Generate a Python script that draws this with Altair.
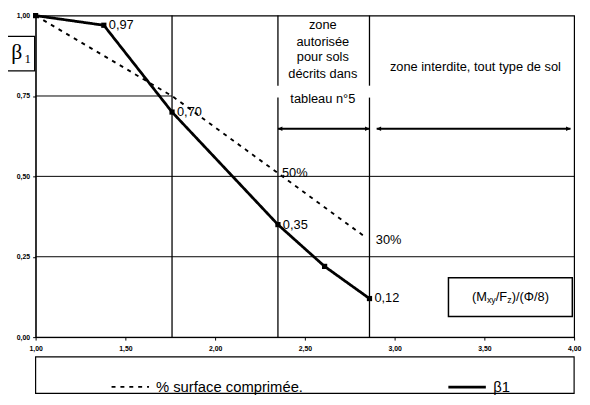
import altair as alt
import pandas as pd

# ---------------- data ----------------
beta_x = [1.00, 1.38, 1.76, 2.35, 2.61, 2.86]
beta_y = [1.00, 0.97, 0.70, 0.35, 0.22, 0.12]
beta_labels = ["", "0,97", "0,70", "0,35", "", "0,12"]

surf_x = [1.00, 1.76, 2.35, 2.84]
surf_y = [1.00, 0.75, 0.51, 0.31]
surf_labels = ["", "", "50%", "30%"]

series_names = ["% surface comprimée.", "β1"]

x_ticks = [1.0, 1.5, 2.0, 2.5, 3.0, 3.5, 4.0]
y_ticks = [0.0, 0.25, 0.5, 0.75, 1.0]

# horizontal grid lines (y, x-from, x-to)
grid_y = [0.25, 0.50, 0.75]
grid_x1 = [1.0, 1.0, 1.0]
grid_x2 = [4.0, 4.0, 1.76]

# vertical separators (x, y-from, y-to)
sep_x = [1.76, 2.35, 2.35, 2.86, 2.86]
sep_y1 = [0.0, 0.0, 0.782, 0.0, 0.782]
sep_y2 = [1.0, 0.745, 1.0, 0.745, 1.0]

zone_text = ["zone", "autorisée", "pour sols", "décrits dans", "tableau n°5"]
zone_text_y = [0.970, 0.918, 0.870, 0.818, 0.739]
zone_text_x = 2.60

forbid_text = "zone interdite, tout type de sol"

arrow_y = 0.648
arrow_x1 = [2.35, 2.90]
arrow_x2 = [2.86, 3.98]

# ---------------- layout ----------------
W, H = 546, 326
FONT = "Liberation Sans"

lines_df = pd.DataFrame(
    {"x": surf_x + beta_x,
     "y": surf_y + beta_y,
     "serie": [series_names[0]] * len(surf_x) + [series_names[1]] * len(beta_x),
     "order": list(range(len(surf_x))) + list(range(len(beta_x)))}
)
beta_df = pd.DataFrame({"x": beta_x, "y": beta_y, "lab": beta_labels})
surf_df = pd.DataFrame({"x": surf_x, "y": surf_y, "lab": surf_labels})
grid_df = pd.DataFrame({"y": grid_y, "x1": grid_x1, "x2": grid_x2})
sep_df = pd.DataFrame({"x": sep_x, "y1": sep_y1, "y2": sep_y2})
zone_df = pd.DataFrame({"t": zone_text, "y": zone_text_y, "x": [zone_text_x] * len(zone_text)})
arrow_df = pd.DataFrame({"x1": arrow_x1, "x2": arrow_x2, "y": [arrow_y] * 2})

xscale = alt.Scale(domain=[1, 4], nice=False, zero=False)
yscale = alt.Scale(domain=[0, 1], nice=False, zero=False)

comma = "replace(format(datum.value, '.2f'), '.', ',')"

xaxis = alt.Axis(values=x_ticks, labelExpr=comma, grid=False, title=None,
                 labelFontSize=7, labelFontWeight="bold", labelFont=FONT,
                 labelColor="black", domainColor="black", tickColor="black",
                 tickSize=3, labelPadding=5, labelFlush=False)
yaxis = alt.Axis(values=y_ticks, labelExpr=comma, grid=False, title=None,
                 labelFontSize=7, labelFontWeight="bold", labelFont=FONT,
                 labelColor="black", domainColor="black", tickColor="black",
                 tickSize=3, labelPadding=3)

X = alt.X("x:Q", scale=xscale, axis=xaxis)
Y = alt.Y("y:Q", scale=yscale, axis=yaxis)

grid = alt.Chart(grid_df).mark_rule(color="black", strokeWidth=1).encode(
    x=alt.X("x1:Q", scale=xscale, axis=xaxis), x2="x2:Q",
    y=alt.Y("y:Q", scale=yscale, axis=yaxis),
)

seps = alt.Chart(sep_df).mark_rule(color="black", strokeWidth=1.3).encode(
    x=alt.X("x:Q", scale=xscale, axis=xaxis),
    y=alt.Y("y1:Q", scale=yscale, axis=yaxis),
    y2="y2:Q",
)

legend = alt.Legend(
    title=None, orient="none", legendX=76, legendY=H + 30, direction="horizontal",
    symbolType="stroke", symbolSize=1444, symbolStrokeColor="black",
    labelFont=FONT, labelFontSize=15, labelColor="black", labelOffset=6,
    columnPadding=140,
)

lines = alt.Chart(lines_df).mark_line(color="black").encode(
    x=X, y=Y, order="order:Q",
    strokeDash=alt.StrokeDash("serie:N", scale=alt.Scale(domain=series_names, range=[[4, 5], [1, 0]]), legend=legend),
    strokeWidth=alt.StrokeWidth("serie:N", scale=alt.Scale(domain=series_names, range=[1.9, 2.8]), legend=legend),
)

pts = alt.Chart(beta_df).mark_point(shape="square", filled=True, color="black", size=28, opacity=1).encode(x=X, y=Y)

beta_lab = alt.Chart(beta_df).mark_text(align="left", baseline="middle", dx=5, font=FONT, fontSize=13, color="black").encode(
    x=X, y=Y, text="lab:N")

surf_lab50 = alt.Chart(surf_df).transform_filter("datum.lab == '50%'").mark_text(
    align="left", baseline="middle", dx=4, font=FONT, fontSize=13, color="black").encode(x=X, y=Y, text="lab:N")
surf_lab30 = alt.Chart(surf_df).transform_filter("datum.lab == '30%'").mark_text(
    align="left", baseline="middle", dx=10, dy=3, font=FONT, fontSize=13, color="black").encode(x=X, y=Y, text="lab:N")

zone = alt.Chart(zone_df).mark_text(align="center", baseline="middle", font=FONT, fontSize=13, color="black").encode(
    x=alt.X("x:Q", scale=xscale, axis=xaxis), y=alt.Y("y:Q", scale=yscale, axis=yaxis), text="t:N")

forbid = alt.Chart(pd.DataFrame({"t": [forbid_text]})).mark_text(
    align="center", baseline="middle", font=FONT, fontSize=13, color="black").encode(
    x=alt.datum(3.45, scale=xscale), y=alt.datum(0.84, scale=yscale), text="t:N")

arrow_shaft = alt.Chart(arrow_df).mark_rule(color="black", strokeWidth=2.2).encode(
    x=alt.X("x1:Q", scale=xscale, axis=xaxis), x2="x2:Q", y=alt.Y("y:Q", scale=yscale, axis=yaxis))
head_left = alt.Chart(arrow_df).mark_point(shape="M0,0L1,-0.5L1,0.5Z", filled=True, color="black", size=81, opacity=1).encode(
    x=alt.X("x1:Q", scale=xscale, axis=xaxis), y=alt.Y("y:Q", scale=yscale, axis=yaxis))
head_right = alt.Chart(arrow_df).mark_point(shape="M0,0L-1,-0.5L-1,0.5Z", filled=True, color="black", size=81, opacity=1).encode(
    x=alt.X("x2:Q", scale=xscale, axis=xaxis), y=alt.Y("y:Q", scale=yscale, axis=yaxis))

# axis-name box (Mxy/Fz)/(Φ/8)
unit_box = alt.Chart(pd.DataFrame({"a": [0]})).mark_rect(fill="white", stroke="black", strokeWidth=1.5).encode(
    x=alt.datum(3.30, scale=xscale), x2=alt.datum(3.99),
    y=alt.datum(0.185, scale=yscale), y2=alt.datum(0.064))
ux, uy = 3.645, 0.125
unit_parts = [("(M", -39, 0, 13), ("xy", -23.8, 3, 9), ("/F", -14.8, 0, 13), ("z", -3.2, 3, 9), (")/(Φ/8)", 1.3, 0, 13)]
unit_texts = [
    alt.Chart(pd.DataFrame({"t": [t]})).mark_text(align="left", baseline="middle", dx=dx, dy=dy, font=FONT,
                                                   fontSize=fs, color="black").encode(
        x=alt.datum(ux, scale=xscale), y=alt.datum(uy, scale=yscale), text="t:N")
    for t, dx, dy, fs in unit_parts
]

# beta box at top-left
beta_box = alt.Chart(pd.DataFrame({"a": [0]})).mark_rect(fill="white", stroke="black", strokeWidth=1.2).encode(
    x=alt.value(-31), x2=alt.value(-1), y=alt.value(21), y2=alt.value(56))
beta_sym = alt.Chart(pd.DataFrame({"t": ["β"]})).mark_text(font="Liberation Serif", fontSize=22, color="black",
                                                          align="center", baseline="middle").encode(
    x=alt.value(-19), y=alt.value(37), text="t:N")
beta_sub = alt.Chart(pd.DataFrame({"t": ["1"]})).mark_text(font="Liberation Serif", fontSize=13, color="black",
                                                          align="center", baseline="middle").encode(
    x=alt.value(-8), y=alt.value(44), text="t:N")

# legend frame
legend_box = alt.Chart(pd.DataFrame({"a": [0]})).mark_rect(fill="white", stroke="black", strokeWidth=1.2).encode(
    x=alt.value(0), x2=alt.value(W), y=alt.value(H + 20), y2=alt.value(H + 57))

chart = alt.layer(
    legend_box, grid, seps, arrow_shaft, head_left, head_right, lines, pts,
    beta_lab, surf_lab50, surf_lab30, zone, forbid, unit_box, *unit_texts,
    beta_box, beta_sym, beta_sub,
).properties(
    width=W, height=H,
    autosize=alt.AutoSizeParams(type="none"),
    padding={"left": 28, "top": 5, "right": 8, "bottom": 58},
    background="white",
).configure_view(stroke="black", strokeWidth=1.2).configure_legend(
    symbolStrokeColor="black"
)

chart.save("out.html", embed_options={"renderer": "svg", "actions": False})
